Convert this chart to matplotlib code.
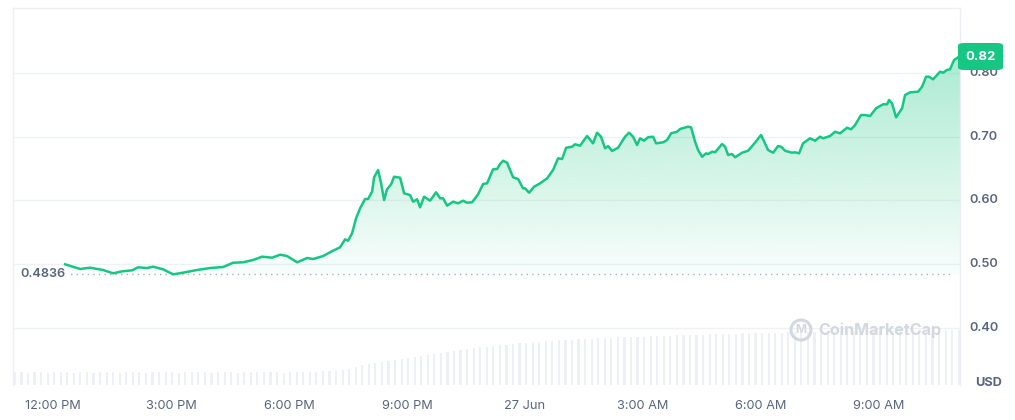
import numpy as np
import matplotlib
matplotlib.use("Agg")
import matplotlib.pyplot as plt
from matplotlib.patches import FancyBboxPatch, Circle

# ---------------- data ----------------
# hours since 12:00 PM (26 Jun)
hours = [0.305, 0.686, 0.941, 1.271, 1.526, 1.754, 2.009, 2.161, 2.390, 2.543,
         2.797, 3.051, 3.305, 3.661, 3.992, 4.322, 4.577, 4.831, 5.085, 5.314,
         5.568, 5.772, 5.950, 6.204, 6.458, 6.611, 6.865, 7.119, 7.297, 7.424,
         7.501, 7.602, 7.704, 7.806, 7.933, 8.009, 8.111, 8.162, 8.264, 8.340,
         8.416, 8.492, 8.594, 8.670, 8.823, 8.925, 9.077, 9.153, 9.255, 9.331,
         9.433, 9.586, 9.738, 9.840, 9.916, 10.018, 10.170, 10.297, 10.425, 10.526,
         10.653, 10.806, 10.933, 11.035, 11.187, 11.289, 11.365, 11.442, 11.543, 11.696,
         11.823, 11.950, 12.001, 12.103, 12.230, 12.383, 12.561, 12.713, 12.840, 12.942,
         13.044, 13.196, 13.272, 13.399, 13.577, 13.730, 13.831, 13.933, 14.035, 14.111,
         14.213, 14.366, 14.544, 14.645, 14.747, 14.849, 14.925, 15.027, 15.128, 15.256,
         15.332, 15.510, 15.612, 15.713, 15.866, 15.942, 16.146, 16.222, 16.324, 16.400,
         16.502, 16.603, 16.654, 16.756, 16.832, 17.010, 17.086, 17.163, 17.264, 17.341,
         17.519, 17.671, 17.798, 18.002, 18.180, 18.307, 18.434, 18.510, 18.612, 18.790,
         18.866, 18.968, 19.069, 19.247, 19.375, 19.502, 19.578, 19.756, 19.883, 20.010,
         20.188, 20.290, 20.392, 20.544, 20.646, 20.773, 20.925, 21.103, 21.205, 21.256,
         21.332, 21.434, 21.587, 21.663, 21.790, 21.994, 22.095, 22.197, 22.273, 22.375,
         22.553, 22.629, 22.731, 22.807, 22.909, 23.061]
prices = [0.4995, 0.4922, 0.4942, 0.4906, 0.4854, 0.4885, 0.4901, 0.4948, 0.4937, 0.4958,
          0.4917, 0.4838, 0.4864, 0.4906, 0.4937, 0.4953, 0.5020, 0.5027, 0.5063, 0.5115,
          0.5099, 0.5146, 0.5125, 0.5027, 0.5094, 0.5078, 0.5125, 0.5209, 0.5262, 0.5387,
          0.5365, 0.5482, 0.5717, 0.5874, 0.6020, 0.6020, 0.6134, 0.6360, 0.6475, 0.6266,
          0.6004, 0.6172, 0.6250, 0.6369, 0.6354, 0.6109, 0.6082, 0.5977, 0.6015, 0.5889,
          0.6056, 0.5993, 0.6125, 0.6031, 0.6031, 0.5915, 0.5977, 0.5952, 0.5993, 0.5962,
          0.5968, 0.6093, 0.6255, 0.6266, 0.6485, 0.6490, 0.6569, 0.6620, 0.6589, 0.6360,
          0.6333, 0.6187, 0.6187, 0.6118, 0.6213, 0.6266, 0.6344, 0.6475, 0.6658, 0.6647,
          0.6824, 0.6840, 0.6878, 0.6856, 0.7008, 0.6893, 0.7060, 0.6997, 0.6815, 0.6851,
          0.6773, 0.6824, 0.6997, 0.7060, 0.6997, 0.6867, 0.6972, 0.6934, 0.6988, 0.6997,
          0.6893, 0.6909, 0.6945, 0.7050, 0.7075, 0.7118, 0.7154, 0.7144, 0.6918, 0.6788,
          0.6683, 0.6736, 0.6725, 0.6762, 0.6752, 0.6882, 0.6840, 0.6710, 0.6725, 0.6674,
          0.6746, 0.6777, 0.6867, 0.7024, 0.6788, 0.6746, 0.6851, 0.6840, 0.6777, 0.6746,
          0.6752, 0.6736, 0.6893, 0.6972, 0.6934, 0.6997, 0.6972, 0.7008, 0.7075, 0.7050,
          0.7138, 0.7113, 0.7180, 0.7337, 0.7337, 0.7322, 0.7442, 0.7505, 0.7505, 0.7573,
          0.7521, 0.7301, 0.7442, 0.7651, 0.7693, 0.7703, 0.7781, 0.7938, 0.7938, 0.7897,
          0.8017, 0.8001, 0.8044, 0.8055, 0.8200, 0.8263]

open_price = 0.4836
last_label = "0.82"

# volume bars, one every 10 minutes starting 11:00 AM (arbitrary units)
volume = [13, 13, 12, 13, 13, 12, 13, 13, 13, 12, 13, 13, 12, 13, 13, 13, 12, 13, 13, 13,
          12, 13, 13, 13, 13, 12, 13, 13, 13, 13, 12, 13, 13, 13, 12, 13, 13, 13, 13, 13,
          13, 12, 13, 13, 13, 13, 13, 14, 14, 14, 15,
          16, 18, 20, 21, 22, 23,
          24, 25, 26, 27, 28, 29, 30, 31, 32,
          33, 34, 35, 36, 37, 38, 38, 39, 40, 40, 41, 42,
          42, 43, 43, 44, 44, 45, 45, 45, 46, 46, 46, 47, 47, 47, 48, 48, 48, 48,
          48, 49, 49, 49, 49, 50, 50, 50, 50, 50, 51, 51, 51, 51, 51, 52, 52, 52,
          52, 52, 52, 52, 53, 53, 53, 53, 53, 53, 53, 53, 54, 54, 54, 54, 54, 54,
          54, 54, 54, 54, 54, 55, 55, 55, 55, 55, 55, 55, 55]

tick_hours = [0, 3, 6, 9, 12, 15, 18, 21]
tick_labels = ["12:00 PM", "3:00 PM", "6:00 PM", "9:00 PM", "27 Jun", "3:00 AM", "6:00 AM", "9:00 AM"]
y_ticks = [0.40, 0.50, 0.60, 0.70, 0.80]

# ---------------- style ----------------
GREEN = "#16c784"
GREY_TXT = "#58667e"
GRID = "#eff2f5"
WM = "#d3d8e0"
FONT = ["Inter", "DejaVu Sans"]
plt.rcParams["font.family"] = FONT

W, H = 1015, 420
fig = plt.figure(figsize=(W / 100, H / 100), dpi=100)
L, R, T, B = 13, 960, 8, 385
ax = fig.add_axes([L / W, (H - B) / H, (R - L) / W, (B - T) / H])
x0, x1 = -1.02, 23.06
y0, y1 = 0.3102, 0.9016
ax.set_xlim(x0, x1)
ax.set_ylim(y0, y1)

# volume (twin axis)
axv = ax.twinx()
axv.set_ylim(0, B - T)
vol_x = -1.0 + np.arange(len(volume)) / 6.0
axv.bar(vol_x, volume, width=0.055, color="#edf0f4", align="edge", zorder=0, linewidth=0)
axv.set_yticks([])
ax.set_zorder(axv.get_zorder() + 1)
ax.patch.set_visible(False)
for sp in axv.spines.values():
    sp.set_visible(False)

# grid
for v in y_ticks:
    ax.axhline(v, color=GRID, lw=1.0, zorder=1)

# gradient fill between line and open price
poly = ax.fill_between(hours, prices, open_price, color="none", lw=0)
top_v = max(prices)
n = 256
grad = np.zeros((n, 1, 4))
rgb = matplotlib.colors.to_rgb(GREEN)
grad[:, 0, 0] = rgb[0]
grad[:, 0, 1] = rgb[1]
grad[:, 0, 2] = rgb[2]
grad[:, 0, 3] = np.linspace(0.03, 0.36, n)
im = ax.imshow(grad, extent=[x0, x1, open_price, top_v], origin="lower",
               aspect="auto", zorder=2, interpolation="bilinear")
im.set_clip_path(poly.get_paths()[0], transform=ax.transData)

# open price dotted line
ax.plot([hours[0], x1 - 0.15], [open_price, open_price], color="#a6b0c3",
        lw=1.0, ls=(0, (1, 3)), zorder=3)

# price line
ax.plot(hours, prices, color=GREEN, lw=1.8, zorder=4, solid_joinstyle="round")

# axes styling
for name, sp in ax.spines.items():
    sp.set_color("#eceff3")
    sp.set_linewidth(1.0)
ax.spines["bottom"].set_visible(False)
ax.set_yticks([])
ax.set_xticks(tick_hours)
ax.set_xticklabels(tick_labels, color=GREY_TXT, fontsize=9.2)
ax.tick_params(axis="x", length=0, pad=11)

# right side y labels
for v in y_ticks:
    ax.text(x1 + 0.25, v, f"{v:.2f}", color=GREY_TXT, fontsize=9.2, fontweight="semibold",
            va="center", ha="left", clip_on=False)
ax.text(x1 + 0.72, y0 + 0.003, "USD", color=GREY_TXT, fontsize=9.2, fontweight="bold",
        va="center", ha="center", clip_on=False)

# open price label
ax.text(x0 + 0.2, open_price, f"{open_price:.4f}", color=GREY_TXT, fontsize=9.2,
        fontweight="semibold", va="center", ha="left", zorder=5,
        bbox=dict(boxstyle="square,pad=0.1", fc="white", ec="none"))

# last price label
fig.patches.append(FancyBboxPatch((958 / W, (H - 70) / H), 45 / W, 27 / H,
                                  boxstyle="round,pad=0,rounding_size=0.006",
                                  transform=fig.transFigure, fc=GREEN, ec="none", zorder=10))
fig.text(980.5 / W, (H - 56.5) / H, last_label, color="white", fontsize=9.5,
         fontweight="bold", ha="center", va="center", zorder=11)

# watermark
fig.text(818 / W, (H - 330) / H, "CoinMarketCap", color=WM, fontsize=11.6,
         fontweight="bold", ha="left", va="center", zorder=6)
fig.patches.append(Circle((801, H - 330), 10, transform=None, fill=False,
                          ec=WM, lw=2.2, zorder=6))
fig.text(801 / W, (H - 330) / H, "M", color=WM, fontsize=8.5, fontweight="bold",
         ha="center", va="center", zorder=6)

fig.savefig("out.png", dpi=100, facecolor="white")
